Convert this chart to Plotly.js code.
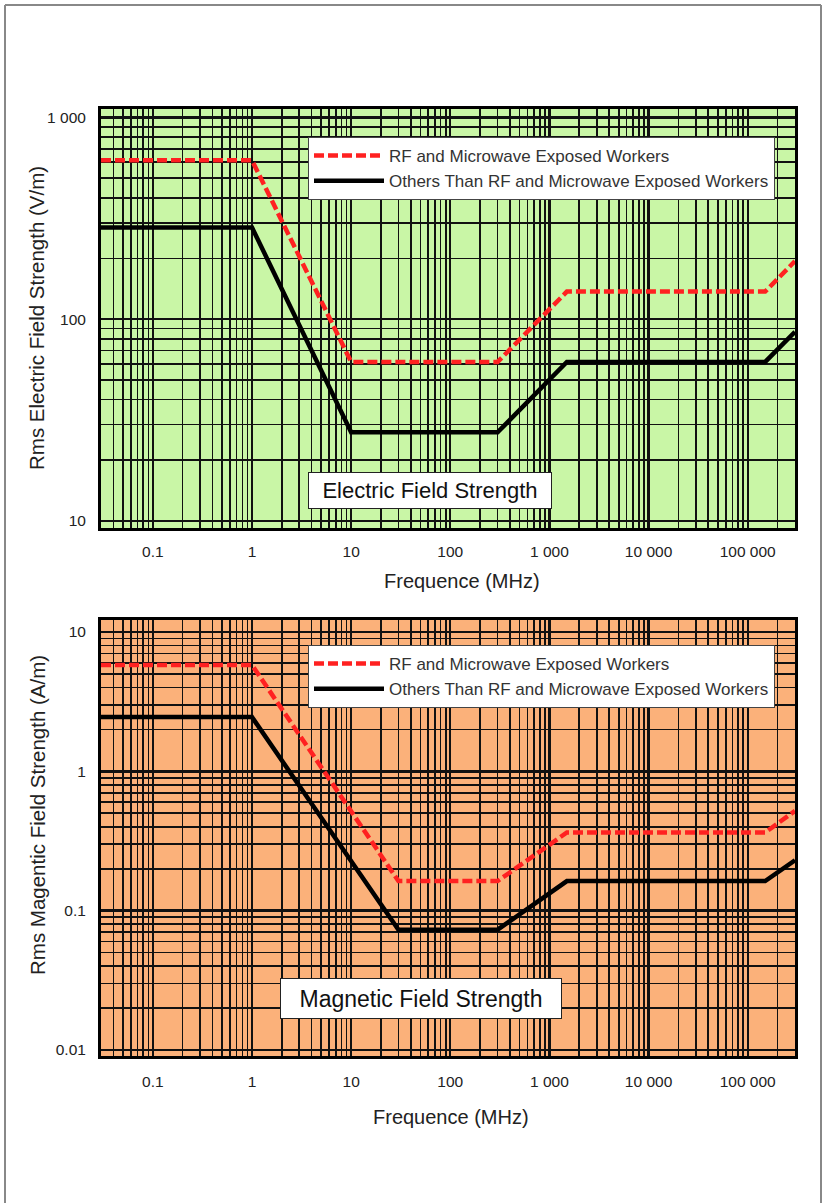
<!DOCTYPE html>
<html>
<head>
<meta charset="utf-8">
<script src="https://cdn.plot.ly/plotly-3.0.1.min.js"></script>
<style>html,body{margin:0;padding:0;background:#fff;}#chart{width:825px;height:1203px;}</style>
</head>
<body>
<div id="chart"></div>
<script>
// ---- data ----
const freqE_RF    = [0.03, 1, 10, 300, 1500, 150000, 300000];
const eField_RF   = [614, 614, 61.4, 61.4, 137, 137, 194];
const freqE_Other = [0.03, 1, 10, 300, 1500, 150000, 300000];
const eField_Other= [285, 285, 27.5, 27.5, 61.4, 61.4, 86.5];

const freqH_RF    = [0.03, 1, 30, 300, 1500, 150000, 300000];
const hField_RF   = [5.8, 5.8, 0.163, 0.163, 0.364, 0.364, 0.52];
const freqH_Other = [0.03, 1, 30, 300, 1500, 150000, 300000];
const hField_Other= [2.45, 2.45, 0.073, 0.073, 0.163, 0.163, 0.23];

const seriesNames = ["RF and Microwave Exposed Workers", "Others Than RF and Microwave Exposed Workers"];

const xTickVals = [0.1, 1, 10, 100, 1000, 10000, 100000];
const xTickText = ["0.1", "1", "10", "100", "1 000", "10 000", "100 000"];
const yETickVals = [10, 100, 1000];
const yETickText = ["10", "100", "1 000"];
const yHTickVals = [0.01, 0.1, 1, 10];
const yHTickText = ["0.01", "0.1", "1", "10"];

// ---- figure ----
const W = 825, H = 1203;
const px = v => v / W;
const py = v => 1 - v / H;
const FONT = "Liberation Sans, Arial, Helvetica, sans-serif";
const TXT = "#222";

const redLine = {color: "#ff2121", width: 4.5, dash: "10px,4px"};
const blackLine = {color: "#000", width: 4.5};

const traces = [
  {x: freqE_RF, y: eField_RF, name: seriesNames[0], mode: "lines", line: redLine, xaxis: "x", yaxis: "y", legend: "legend"},
  {x: freqE_Other, y: eField_Other, name: seriesNames[1], mode: "lines", line: blackLine, xaxis: "x", yaxis: "y", legend: "legend"},
  {x: freqH_RF, y: hField_RF, name: seriesNames[0], mode: "lines", line: redLine, xaxis: "x2", yaxis: "y2", legend: "legend2"},
  {x: freqH_Other, y: hField_Other, name: seriesNames[1], mode: "lines", line: blackLine, xaxis: "x2", yaxis: "y2", legend: "legend2"}
];

function xAxis(dom, anchor, tl) {
  return {
    type: "log", domain: dom, anchor: anchor,
    range: [Math.log10(0.03), Math.log10(300000)],
    tickmode: "array", tickvals: xTickVals, ticktext: xTickText,
    ticks: "outside", ticklen: tl, tickcolor: "rgba(0,0,0,0)",
    tickfont: {family: FONT, size: 15.5, color: TXT},
    showgrid: true, gridcolor: "#111", gridwidth: 2.4,
    minor: {tickmode: "linear", dtick: "D1", showgrid: true, gridcolor: "#111", gridwidth: 1.6, ticks: ""},
    showline: true, linecolor: "#000", linewidth: 3, mirror: true,
    zeroline: false, fixedrange: true, title: {text: ""}
  };
}
function yAxis(dom, anchor, range, vals, text) {
  return {
    type: "log", domain: dom, anchor: anchor, range: range,
    tickmode: "array", tickvals: vals, ticktext: text,
    ticks: "outside", ticklen: 9, tickcolor: "rgba(0,0,0,0)",
    tickfont: {family: FONT, size: 15.5, color: TXT},
    showgrid: true, gridcolor: "#111", gridwidth: 2.4,
    minor: {tickmode: "linear", dtick: "D1", showgrid: true, gridcolor: "#111", gridwidth: 1.6, ticks: ""},
    showline: true, linecolor: "#000", linewidth: 3, mirror: true,
    zeroline: false, fixedrange: true, title: {text: ""}
  };
}

const legendCommon = {
  bgcolor: "#fff", bordercolor: "#444", borderwidth: 1,
  font: {family: FONT, size: 17, color: "#333"},
  xanchor: "left", yanchor: "top", tracegroupgap: 0, itemwidth: 70
};

function ann(x, y, text, size, extra) {
  return Object.assign({xref: "paper", yref: "paper", x: px(x), y: py(y), text: text, showarrow: false,
    xanchor: "center", yanchor: "middle", font: {family: FONT, size: size, color: TXT}}, extra || {});
}

const layout = {
  width: W, height: H,
  margin: {l: 0, r: 0, t: 0, b: 0},
  paper_bgcolor: "#fff",
  showlegend: true,
  hovermode: false,
  xaxis: xAxis([px(101), px(795)], "y", 7),
  yaxis: yAxis([py(528), py(109)], "x", [0.965, 3.042], yETickVals, yETickText),
  xaxis2: xAxis([px(101), px(795)], "y2", 9),
  yaxis2: yAxis([py(1056), py(620)], "x2", [-2.043, 1.086], yHTickVals, yHTickText),
  legend: Object.assign({x: px(308), y: py(137)}, legendCommon),
  legend2: Object.assign({x: px(308), y: py(645)}, legendCommon),
  annotations: [
    ann(430, 490, "Electric Field Strength", 22, {font: {family: FONT, size: 22, color: "#111"},
      bgcolor: "#fff", bordercolor: "#222", borderwidth: 1, width: 234, height: 27, borderpad: 4}),
    ann(421, 998, "Magnetic Field Strength", 23, {font: {family: FONT, size: 23, color: "#111"},
      bgcolor: "#fff", bordercolor: "#222", borderwidth: 1, width: 272, height: 31, borderpad: 4}),
    ann(37, 318, "Rms Electric Field Strength (V/m)", 20.5, {textangle: -90}),
    ann(37, 815, "Rms Magentic Field Strength (A/m)", 20.5, {textangle: -90}),
    ann(462, 581, "Frequence (MHz)", 20),
    ann(451, 1117, "Frequence (MHz)", 20)
  ],
  shapes: [
    {type: "rect", xref: "x domain", yref: "y domain", x0: 0, x1: 1, y0: 0, y1: 1, layer: "below", line: {width: 0}, fillcolor: "#c9f6a6"},
    {type: "rect", xref: "x2 domain", yref: "y2 domain", x0: 0, x1: 1, y0: 0, y1: 1, layer: "below", line: {width: 0}, fillcolor: "#fbb17a"},
    {type: "line", xref: "paper", yref: "paper", x0: px(5), x1: px(5), y0: 0, y1: py(5), line: {color: "#888", width: 2}},
    {type: "line", xref: "paper", yref: "paper", x0: px(5), x1: px(821), y0: py(5), y1: py(5), line: {color: "#888", width: 2}},
    {type: "line", xref: "paper", yref: "paper", x0: px(821), x1: px(821), y0: 0, y1: py(5), line: {color: "#888", width: 2}}
  ]
};

Plotly.newPlot("chart", traces, layout, {displayModeBar: false, staticPlot: true});
</script>
</body>
</html>
